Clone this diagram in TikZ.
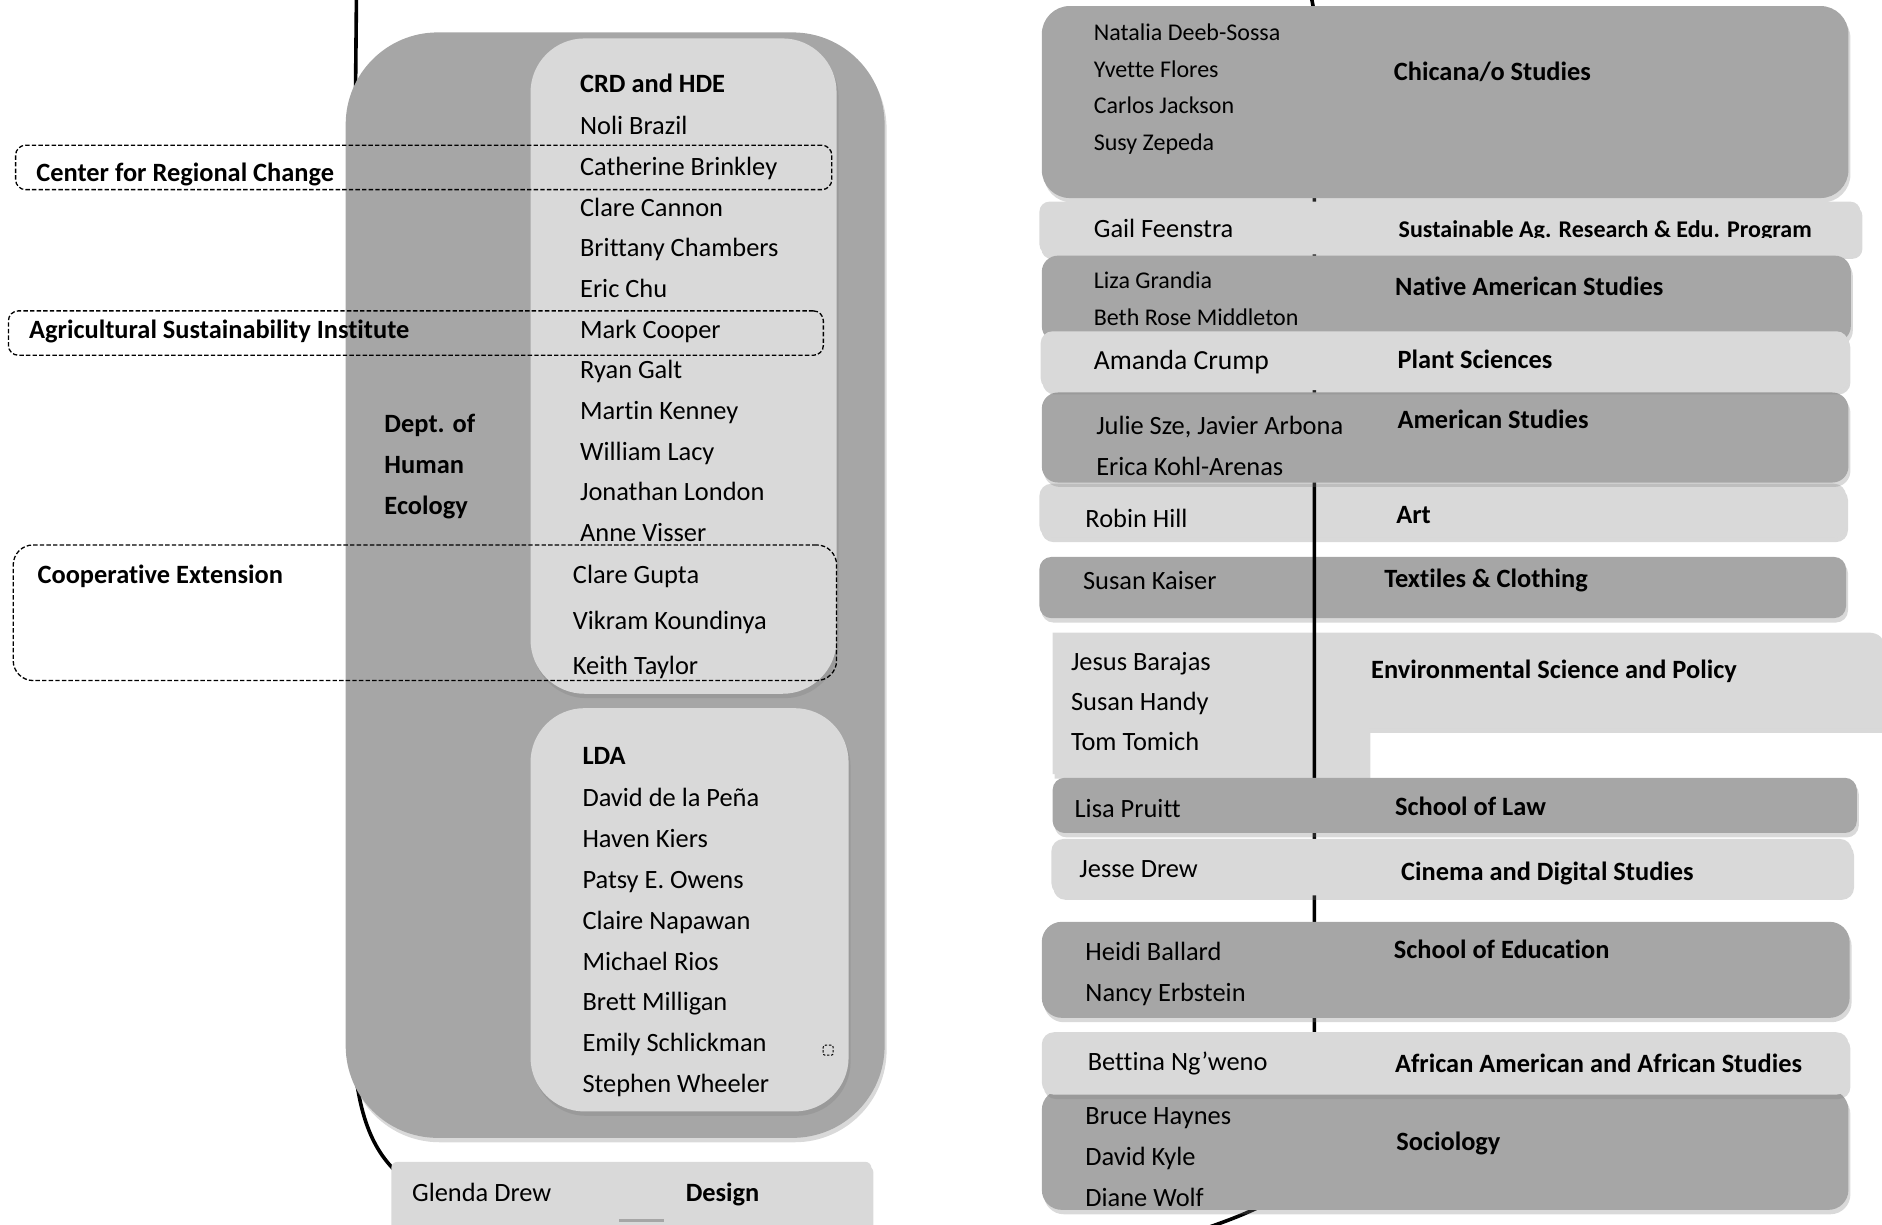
\documentclass[tikz,border=0pt]{standalone}
\usepackage{fontspec}
\setmainfont{Carlito}[Ligatures=NoCommon]
\usetikzlibrary{shadows}
\definecolor{dg}{HTML}{A6A6A6}
\definecolor{lg}{HTML}{D9D9D9}
\tikzset{
  shad/.style={drop shadow={shadow xshift=1pt,shadow yshift=-2.2pt,opacity=0.3}},
  darkbox/.style={fill=dg, draw=none, rounded corners=#1, shad},
  darkbox/.default=6pt,
  lightbox/.style={fill=lg, draw=none, rounded corners=#1, shad},
  lightbox/.default=6pt,
  dashbox/.style={draw=black, line width=0.65pt, dash pattern=on 2.2pt off 1.1pt, rounded corners=#1},
  dashbox/.default=5pt,
  bracket/.style={draw=black, line width=1.8pt, line cap=round},
  txt/.style={anchor=west, inner sep=0pt, yshift=-0.7pt, text height=8.5pt, text depth=0pt, font=\fontsize{13.2pt}{15pt}\selectfont},
  btxt/.style={txt, font=\fontsize{13.2pt}{15pt}\selectfont\bfseries},
  stxt/.style={txt, text height=7.7pt, font=\fontsize{12pt}{14pt}\selectfont},
  sbtxt/.style={txt, text height=7.7pt, font=\fontsize{12pt}{14pt}\selectfont\bfseries},
  ltxt/.style={txt, text height=8.9pt, font=\fontsize{13.8pt}{16pt}\selectfont},
}
\newcommand\panelbox[6]{\node[#1, inner sep=0pt, minimum width={(#5-(#3))*0.6pt}, minimum height={(#6-(#4))*0.6pt}] (#2) at ({(#3+#5)/2},{(#4+#6)/2}) {};}
\begin{document}
\begin{tikzpicture}[x=0.6pt,y=-0.6pt]
\useasboundingbox (0,0) rectangle (1568,1020.6);
% ---------------- left side ----------------
\coordinate (lt) at (297,-5);
\coordinate (lb) at (332,978);
\draw[bracket] (lt) -- (294,300) -- (294,850) .. controls (294,925) and (310,958) .. (lb);
\panelbox{darkbox=46pt}{hde}{288}{27}{737}{948}
\panelbox{lightbox=27pt}{crd}{442}{32}{697}{578}
\panelbox{lightbox=27pt}{lda}{442}{590}{707}{926}
\node[dashbox=1pt, minimum width=5pt, minimum height=5pt, inner sep=0pt, line width=0.5pt, dash pattern=on 1.2pt off 0.8pt] (icon) at (690,875) {};
% texts in CRD
\node[btxt] (crdt) at (483,69) {CRD and HDE};
\foreach \t [count=\i] in {Noli Brazil,Catherine Brinkley,Clare Cannon,Brittany Chambers,Eric Chu,Mark Cooper,Ryan Galt,Martin Kenney,William Lacy,Jonathan London,Anne Visser}
  \node[txt] (crd\i) at (483,{104+33.9*(\i-1)}) {\t};
\node[txt] (ce1) at (477,478) {Clare Gupta};
\node[txt] (ce2) at (477,516) {Vikram Koundinya};
\node[txt] (ce3) at (477,554) {Keith Taylor};
\node[btxt] (dept1) at (320,352) {Dept. of};
\node[btxt] (dept2) at (320,386) {Human};
\node[btxt] (dept3) at (320,420) {Ecology};
\node[btxt] (ldat) at (485,629) {LDA};
\foreach \t [count=\i] in {David de la Peña,Haven Kiers,Patsy E. Owens,Claire Napawan,Michael Rios,Brett Milligan,Emily Schlickman,Stephen Wheeler}
  \node[txt] (lda\i) at (485,{664+34*(\i-1)}) {\t};
% dashed groups
\panelbox{dashbox}{crc}{13}{121}{693}{158}
\panelbox{dashbox}{asi}{7}{259}{686}{296}
\panelbox{dashbox=10pt}{coop}{11}{454}{697}{567}
\node[btxt] (crct) at (30,143) {Center for Regional Change};
\node[btxt] (asit) at (24,274) {Agricultural Sustainability Institute};
\node[btxt] (coopt) at (31,478) {Cooperative Extension};
% design
\panelbox{lightbox=3pt}{des}{326}{968}{726}{1028}
\draw[line width=1.8pt, draw=dg] (516,1017) -- (553,1017);
\node[txt] (glenda) at (343,993) {Glenda Drew};
\node[btxt] (design) at (571,993) {Design};
% ---------------- right side ----------------
\panelbox{lightbox}{art}{866}{403}{1538}{448}
\panelbox{darkbox}{tex}{866}{464}{1538}{515}
\path[fill=lg, shad] (877,527) -- (1556,527) .. controls (1566,527) and (1570,532) .. (1570,540) -- (1570,607) -- (1140,607) -- (1140,645) -- (877,645) -- cycle;
\coordinate (rt) at (1092,-4);
\coordinate (rb) at (985,1030);
\draw[bracket] (rt) .. controls (1094,4) .. (1095,16) -- (1095,940) .. controls (1095,990) and (1060,1005) .. (rb);
\panelbox{darkbox=14pt}{chic}{868}{5}{1540}{165}
\panelbox{lightbox=5pt}{sarep}{866}{168}{1550}{212}
\panelbox{darkbox=8pt}{nas}{868}{213}{1542}{285}
\panelbox{darkbox=8pt}{amst}{868}{327}{1540}{402}
\panelbox{lightbox}{plant}{867}{276}{1540}{325}
\panelbox{darkbox}{law}{877}{648}{1547}{694}
\panelbox{lightbox}{cds}{876}{699}{1543}{746}
\panelbox{darkbox=10pt}{edu}{868}{768}{1541}{848}
\panelbox{darkbox=10pt}{soc}{868}{908}{1540}{1008}
\panelbox{lightbox}{aaas}{868}{860}{1540}{912}
% right texts
\node[stxt] (chic1) at (911,26) {Natalia Deeb-Sossa};
\node[stxt] (chic2) at (911,57) {Yvette Flores};
\node[stxt] (chic3) at (911,87) {Carlos Jackson};
\node[stxt] (chic4) at (911,118) {Susy Zepeda};
\node[btxt] (chict) at (1161,59) {Chicana/o Studies};
\node[txt] (gail) at (911,190) {Gail Feenstra};
\begin{scope}
\clip (1150,170) rectangle (1560,197.5);
\node[sbtxt] (sarept) at (1165,190) {Sustainable Ag. Research \& Edu. Program};
\end{scope}
\node[stxt] (nas1) at (911,233) {Liza Grandia};
\node[stxt] (nas2) at (911,264) {Beth Rose Middleton};
\node[btxt] (nast) at (1162,238) {Native American Studies};
\node[ltxt] (plant1) at (911,299) {Amanda Crump};
\node[btxt] (plantt) at (1164,299) {Plant Sciences};
\node[txt] (amst1) at (913,354) {Julie Sze, Javier Arbona};
\node[txt] (amst2) at (913,388) {Erica Kohl-Arenas};
\node[btxt] (amstt) at (1164,349) {American Studies};
\node[txt] (art1) at (904,431) {Robin Hill};
\node[btxt] (artt) at (1163,428) {Art};
\node[txt] (tex1) at (902,483) {Susan Kaiser};
\node[btxt] (text) at (1153,481) {Textiles \& Clothing};
\node[txt] (esp1) at (892,550) {Jesus Barajas};
\node[txt] (esp2) at (892,584) {Susan Handy};
\node[txt] (esp3) at (892,617) {Tom Tomich};
\node[btxt] (espt) at (1142,557) {Environmental Science and Policy};
\node[txt] (law1) at (895,673) {Lisa Pruitt};
\node[btxt] (lawt) at (1162,671) {School of Law};
\node[txt] (cds1) at (899,723) {Jesse Drew};
\node[btxt] (cdst) at (1167,725) {Cinema and Digital Studies};
\node[txt] (edu1) at (904,792) {Heidi Ballard};
\node[txt] (edu2) at (904,826) {Nancy Erbstein};
\node[btxt] (edut) at (1161,790) {School of Education};
\node[txt] (aaas1) at (906,884) {Bettina Ng’weno};
\node[btxt] (aaast) at (1162,885) {African American and African Studies};
\node[txt] (soc1) at (904,929) {Bruce Haynes};
\node[txt] (soc2) at (904,963) {David Kyle};
\node[txt] (soc3) at (904,997) {Diane Wolf};
\node[btxt] (soct) at (1163,950) {Sociology};
\end{tikzpicture}
\end{document}
